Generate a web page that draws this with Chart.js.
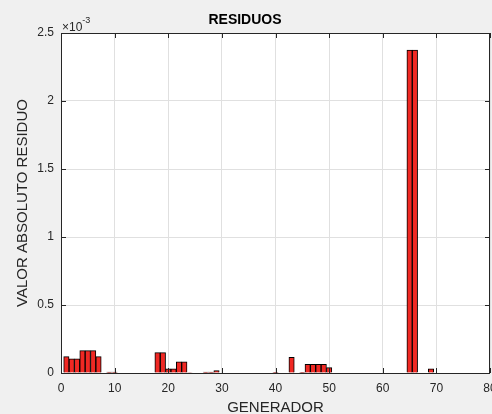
<!DOCTYPE html>
<html>
<head>
<meta charset="utf-8">
<script src="https://cdn.jsdelivr.net/npm/chart.js@4"></script>
<style>
  html, body { margin: 0; padding: 0; background: #f0f0f0; overflow: hidden; }
  #wrap { width: 520px; height: 414px; }
</style>
</head>
<body>
<div id="wrap"><canvas id="residuos" width="520" height="414"></canvas></div>
<script>
// generator number and absolute residual (values in units of 1e-3)
const generators = [];
for (let g = 1; g <= 73; g++) generators.push(g);

const residuals = [
  0.12, 0.105, 0.105, 0.165, 0.165, 0.165, 0.12, 0, 0.006, 0.006,   // 1-10
  0, 0, 0, 0, 0, 0, 0, 0.15, 0.15, 0.03,                              // 11-20
  0.03, 0.083, 0.083, 0.004, 0, 0, 0.006, 0.006, 0.017, 0,            // 21-30
  0, 0, 0, 0, 0, 0, 0, 0, 0, 0.003,                                   // 31-40
  0, 0, 0.115, 0, 0.005, 0.064, 0.064, 0.064, 0.064, 0.04,            // 41-50
  0, 0, 0, 0, 0, 0, 0, 0, 0, 0,                                       // 51-60
  0, 0, 0, 0, 2.375, 2.375, 0, 0, 0.03, 0,                            // 61-70
  0, 0, 0                                                             // 71-73
];

const xTicks = [0, 10, 20, 30, 40, 50, 60, 70, 80];
const yTicks = [0, 0.5, 1, 1.5, 2, 2.5];

const axisColor = '#262626';
const font = '"Liberation Sans", Arial, sans-serif';

// white plot area
const bgPlugin = {
  id: 'plotBg',
  beforeDraw(chart) {
    const { ctx, chartArea: a } = chart;
    ctx.save();
    ctx.fillStyle = '#fff';
    ctx.fillRect(a.left, a.top, a.right - a.left, a.bottom - a.top);
    ctx.restore();
  }
};

// MATLAB style box with inward tick marks + exponent label
const boxPlugin = {
  id: 'box',
  afterDatasetsDraw(chart) {
    const { ctx, chartArea: a, scales } = chart;
    ctx.save();
    ctx.strokeStyle = axisColor;
    ctx.lineWidth = 1;
    ctx.strokeRect(a.left + 0.5, a.top + 0.5, a.right - a.left - 1, a.bottom - a.top);
    ctx.beginPath();
    xTicks.forEach(t => {
      const x = Math.round(scales.x.getPixelForValue(t)) + 0.5;
      ctx.moveTo(x, a.bottom); ctx.lineTo(x, a.bottom - 5);
      ctx.moveTo(x, a.top); ctx.lineTo(x, a.top + 5);
    });
    yTicks.forEach(t => {
      const y = Math.round(scales.y.getPixelForValue(t)) + 0.5;
      ctx.moveTo(a.left, y); ctx.lineTo(a.left + 5, y);
      ctx.moveTo(a.right, y); ctx.lineTo(a.right - 5, y);
    });
    ctx.stroke();

    ctx.fillStyle = axisColor;
    ctx.textBaseline = 'alphabetic';
    ctx.textAlign = 'left';
    ctx.font = '12px ' + font;
    ctx.fillText('\u00d710', a.left + 1, a.top - 2);
    const w = ctx.measureText('\u00d710').width;
    ctx.font = '9px ' + font;
    ctx.fillText('-3', a.left + 1 + w, a.top - 10);
    ctx.restore();
  }
};

const ctx = document.getElementById('residuos').getContext('2d');
new Chart(ctx, {
  type: 'bar',
  data: {
    datasets: [{
      data: generators.map((g, i) => ({ x: g, y: residuals[i] })),
      backgroundColor: 'rgb(240, 40, 35)',
      borderColor: '#000',
      borderWidth: 1,
      categoryPercentage: 1,
      barPercentage: 1
    }]
  },
  options: {
    responsive: false,
    animation: false,
    layout: { padding: { right: 30 } },
    plugins: {
      legend: { display: false },
      tooltip: { enabled: false },
      title: {
        display: true,
        text: 'RESIDUOS',
        color: '#000',
        font: { family: font, size: 14, weight: 'bold' },
        padding: { top: 12, bottom: 4.2 }
      }
    },
    scales: {
      x: {
        type: 'linear',
        min: 0,
        max: 80,
        offset: false,
        grid: { color: '#e0e0e0', drawTicks: false, offset: false },
        border: { display: false },
        ticks: {
          stepSize: 10,
          color: axisColor,
          padding: 8,
          maxRotation: 0,
          font: { family: font, size: 12 }
        },
        title: {
          display: true,
          text: 'GENERADOR',
          color: axisColor,
          padding: { top: 0, bottom: 0 },
          font: { family: font, size: 15, lineHeight: 0.8 }
        },
        afterFit(scale) { scale.height = 41; }
      },
      y: {
        min: 0,
        max: 2.5,
        grid: { color: '#e0e0e0', drawTicks: false },
        border: { display: false },
        ticks: {
          stepSize: 0.5,
          color: axisColor,
          padding: 7,
          callback: v => String(v),
          font: { family: font, size: 12 }
        },
        title: {
          display: true,
          text: 'VALOR ABSOLUTO RESIDUO',
          color: axisColor,
          padding: { top: 13.5, bottom: 0 },
          font: { family: font, size: 15 }
        },
        afterFit(scale) { scale.width = 61; }
      }
    }
  },
  plugins: [bgPlugin, boxPlugin]
});
</script>
</body>
</html>
